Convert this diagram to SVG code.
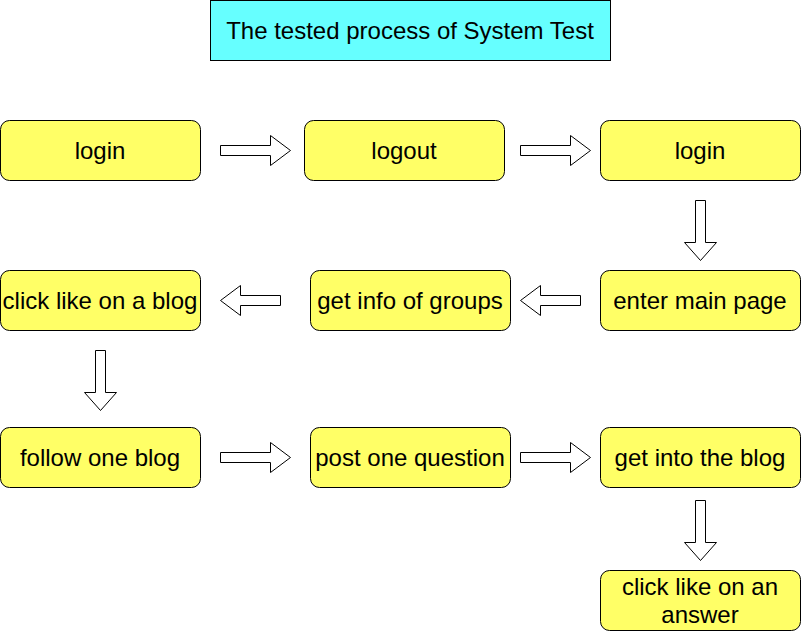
<svg xmlns="http://www.w3.org/2000/svg" width="801" height="631" viewBox="0 0 801 631">
<style>
.box{fill:#ffff66;stroke:#000;stroke-width:1}
.title{fill:#66ffff;stroke:#000;stroke-width:1}
.t{font-family:"Liberation Sans",Arial,sans-serif;font-size:24px;fill:#000;text-anchor:middle;dominant-baseline:central}
.arr{fill:#fff;stroke:#000;stroke-width:1;stroke-linejoin:miter}
</style>
<rect width="801" height="631" fill="#fff"/>
<g id="title"><rect class="title" x="210.5" y="0.5" width="400" height="60"/><text class="t" x="410" y="30">The tested process of System Test</text></g>
<g id="n1"><rect class="box" x="0.5" y="120.5" width="200" height="60" rx="9"/><text class="t" x="100" y="150">login</text></g>
<g id="n2"><rect class="box" x="304.5" y="120.5" width="200" height="60" rx="9"/><text class="t" x="404" y="150">logout</text></g>
<g id="n3"><rect class="box" x="600.5" y="120.5" width="200" height="60" rx="9"/><text class="t" x="700" y="150">login</text></g>
<g id="n4"><rect class="box" x="600.5" y="270.5" width="200" height="60" rx="9"/><text class="t" x="700" y="300">enter main page</text></g>
<g id="n5"><rect class="box" x="310.5" y="270.5" width="200" height="60" rx="9"/><text class="t" x="410" y="300">get info of groups</text></g>
<g id="n6"><rect class="box" x="0.5" y="270.5" width="200" height="60" rx="9"/><text class="t" x="100" y="300">click like on a blog</text></g>
<g id="n7"><rect class="box" x="0.5" y="427.5" width="200" height="60" rx="9"/><text class="t" x="100" y="457">follow one blog</text></g>
<g id="n8"><rect class="box" x="310.5" y="427.5" width="200" height="60" rx="9"/><text class="t" x="410" y="457">post one question</text></g>
<g id="n9"><rect class="box" x="600.5" y="427.5" width="200" height="60" rx="9"/><text class="t" x="700" y="457">get into the blog</text></g>
<g id="n10"><rect class="box" x="600.5" y="570.5" width="200" height="60" rx="9"/><text class="t" x="700" y="586">click like on an</text><text class="t" x="700" y="614">answer</text></g>
<g id="connectors">
<path class="arr" d="M220.5,145.5 H270.5 V135.5 L290.5,150.5 L270.5,165.5 V155.5 H220.5 Z"/>
<path class="arr" d="M520.5,145.5 H570.5 V135.5 L590.5,150.5 L570.5,165.5 V155.5 H520.5 Z"/>
<path class="arr" d="M695.5,200.5 V242.5 H684.5 L700.5,260.5 L716.5,242.5 H705.5 V200.5 Z"/>
<path class="arr" d="M580.5,295.5 H540.5 V285.5 L520.5,300.5 L540.5,315.5 V305.5 H580.5 Z"/>
<path class="arr" d="M280.5,295.5 H240.5 V285.5 L220.5,300.5 L240.5,315.5 V305.5 H280.5 Z"/>
<path class="arr" d="M95.5,350.5 V392.5 H84.5 L100.5,410.5 L116.5,392.5 H105.5 V350.5 Z"/>
<path class="arr" d="M220.5,452.5 H270.5 V442.5 L290.5,457.5 L270.5,472.5 V462.5 H220.5 Z"/>
<path class="arr" d="M520.5,452.5 H570.5 V442.5 L590.5,457.5 L570.5,472.5 V462.5 H520.5 Z"/>
<path class="arr" d="M695.5,500.5 V542.5 H684.5 L700.5,560.5 L716.5,542.5 H705.5 V500.5 Z"/>
</g>
</svg>
